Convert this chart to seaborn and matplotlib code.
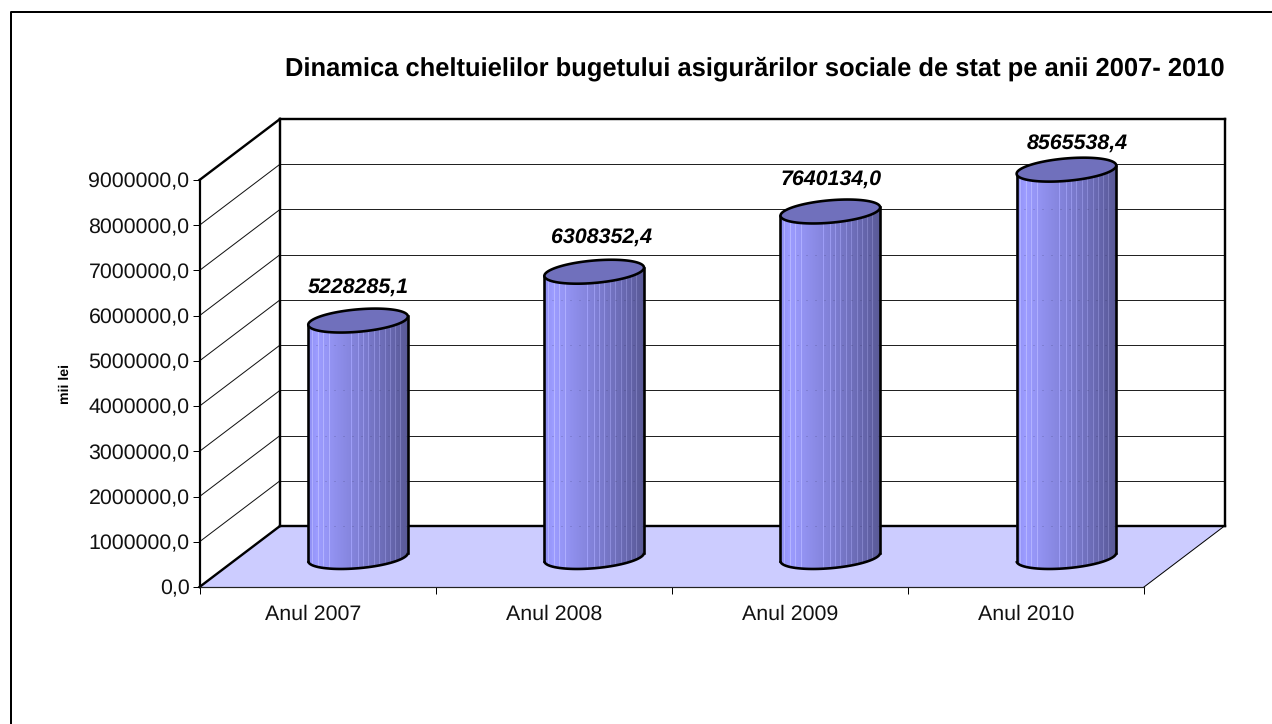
import numpy as np
import matplotlib
matplotlib.use("Agg")
import matplotlib.pyplot as plt
import seaborn as sns
from matplotlib.lines import Line2D
from matplotlib.patches import PathPatch, Polygon
from matplotlib.path import Path
from matplotlib.transforms import Affine2D, IdentityTransform

categories = ["Anul 2007", "Anul 2008", "Anul 2009", "Anul 2010"]
values = [5228285.1, 6308352.4, 7640134.0, 8565538.4]
value_labels = ["5228285,1", "6308352,4", "7640134,0", "8565538,4"]
y_ticks = [0, 1000000, 2000000, 3000000, 4000000, 5000000, 6000000, 7000000, 8000000, 9000000]
title = "Dinamica cheltuielilor bugetului asigurărilor sociale de stat pe anii 2007- 2010"
y_title = "mii lei"

W, H = 1272, 724
sns.set_theme(style="white")
plt.rcParams["font.family"] = ["Liberation Sans", "DejaVu Sans"]
plt.rcParams["text.hinting"] = "no_hinting"
plt.rcParams["text.hinting_factor"] = 8
px = 72 / 100  # points per pixel
FS = 15.4
EDGE = 2.6

fig = plt.figure(figsize=(W / 100, H / 100), dpi=100, facecolor="white")
ax = fig.add_axes([199.5 / W, 1 - 587 / H, 944.5 / W, 407 / H])
ax.patch.set_alpha(0)

sns.barplot(x=categories, y=values, width=0.425, color="#7C7CCC", ax=ax, saturation=1, zorder=5, errorbar=None)
bars = list(ax.patches)
ax.set_xlim(-0.5, 3.5)
ax.set_ylim(0, 9000000)

ax.set_yticks(y_ticks)
ax.set_yticklabels([f"{v},0" for v in y_ticks], fontsize=FS, color="#111111")
ax.set_xticks(np.arange(-0.5, 4.5), minor=False)
ax.set_xticklabels([])
ax.set_xticks(np.arange(len(categories)), labels=categories, minor=True, fontsize=FS, color="#111111")
ax.tick_params(axis="x", which="major", length=7 * px, width=1 * px, color="black", bottom=True)
ax.tick_params(axis="x", which="minor", length=0, pad=18 * px, bottom=True)
ax.tick_params(axis="y", length=7 * px, width=1 * px, color="black", left=True, pad=3 * px)
ax.set_ylabel(y_title, fontsize=10.2, fontweight="bold", color="black")
ax.yaxis.set_label_coords((72 - 199.5) / 944.5, (587 - 384) / 407)
ax.set_xlabel("")
sns.despine(ax=ax, top=True, right=True)
ax.spines["left"].set(linewidth=2.2 * px, color="black", zorder=4)
ax.spines["bottom"].set(linewidth=1.2 * px, color="#222222", zorder=4)

# The first category label sits slightly left of its slot in the source
first = ax.get_xminorticklabels()[0]
first.set_transform(first.get_transform() + Affine2D().translate(-4.5, 0))

# Depth offsets of the pseudo-3D box (pixels)
fig.canvas.draw()
DEPTH = (80.5, 61)
MID = (40.5, 30)
mid = ax.transData + Affine2D().translate(*MID)
ident = IdentityTransform()


def disp(x, v, offset=(0, 0)):
    p = ax.transData.transform((x, v))
    return p[0] + offset[0], p[1] + offset[1]


def seg(a, b, lw, color="black", z=2):
    ax.add_artist(Line2D([a[0], b[0]], [a[1], b[1]], transform=ident, lw=lw * px, color=color,
                         zorder=z, clip_on=False, solid_capstyle="projecting"))


# Floor
fl = [disp(-0.5, 0), disp(3.5, 0), disp(3.5, 0, DEPTH), disp(-0.5, 0, DEPTH)]
ax.add_artist(Polygon(fl, closed=True, transform=ident, facecolor="#CCCCFF", edgecolor="none",
                      zorder=1, clip_on=False))

# Walls grid
for v in y_ticks[1:-1]:
    seg(disp(-0.5, v), disp(-0.5, v, DEPTH), 1, color="#111111")
    seg(disp(-0.5, v, DEPTH), disp(3.5, v, DEPTH), 1, color="#222222")
top = y_ticks[-1]
seg(disp(-0.5, top), disp(-0.5, top, DEPTH), 2.4)
seg(disp(-0.5, 0), disp(-0.5, 0, DEPTH), 2.4)
seg(disp(-0.5, 0, DEPTH), disp(-0.5, top, DEPTH), 2.4)
seg(disp(-0.5, top, DEPTH), disp(3.5, top, DEPTH), 2.4)
seg(disp(3.5, top, DEPTH), disp(3.5, 0, DEPTH), 2.4)
seg(disp(-0.5, 0, DEPTH), disp(3.5, 0, DEPTH), 2.4)
seg(disp(3.5, 0), disp(3.5, 0, DEPTH), 1)

# Cylinders
TILT = np.deg2rad(5.0)
A = 50.0
B = 11.2
streaks = [0.05, 0.11, 0.16, 0.22, 0.44, 0.5, 0.55, 0.6, 0.66, 0.71, 0.77, 0.82, 0.87, 0.92]


def ell(c, t):
    x = A * np.cos(t) * np.cos(TILT) - B * np.sin(t) * np.sin(TILT)
    y = A * np.cos(t) * np.sin(TILT) + B * np.sin(t) * np.cos(TILT)
    return np.column_stack([c[0] + x, c[1] + y])


t_right = np.arctan2(-B * np.sin(TILT), A * np.cos(TILT))
t_left = t_right + np.pi

stops = np.array([[0.0, 140, 140, 238], [0.1, 156, 156, 255], [0.5, 128, 128, 214],
                  [0.85, 100, 100, 170], [1.0, 88, 88, 148]])
for patch in bars:
    x0, w, h = patch.get_x(), patch.get_width(), patch.get_height()
    xc = x0 + w / 2
    patch.set_transform(mid)
    patch.set_linewidth(0)
    ctop = disp(xc, h, MID)
    cbot = disp(xc, 0, MID)
    lower = ell(cbot, np.linspace(t_left, t_right + 2 * np.pi, 60))
    upper = ell(ctop, np.linspace(t_right, t_left, 60))
    verts = np.vstack([lower, upper, lower[:1]])
    codes = [Path.MOVETO] + [Path.LINETO] * (len(verts) - 2) + [Path.CLOSEPOLY]
    body = Path(verts, codes)
    patch.set_clip_box(None)
    patch.set_clip_path(body, ident)

    xl = ctop[0] - A - 1
    xr = ctop[0] + A + 1
    n = int(round(xr - xl))
    u = (np.arange(n) + 0.5) / n
    cols = np.column_stack([np.interp(u, stops[:, 0], stops[:, i]) for i in (1, 2, 3)])
    for s in streaks:
        k = int(s * n)
        cols[k] = np.minimum(cols[k] + 26, 255)
    cols = cols / 255
    X = np.linspace(xl, xr, n + 1)
    Y = np.array([cbot[1] - 30, ctop[1] + 30])
    mesh = ax.pcolormesh(X, Y, cols[None, :, :], transform=ident, zorder=6, antialiased=False, linewidth=0)
    mesh.set_clip_box(None)
    mesh.set_clip_path(body, ident)

    # faint grid showing through the cylinder
    for v in y_ticks[:-1]:
        yy = disp(0, v, DEPTH)[1]
        if yy < ctop[1]:
            ln = Line2D([xl, xr], [yy, yy], transform=ident, color="#222244", lw=1 * px, alpha=0.3,
                        dashes=(1, 8), zorder=6.5)
            ax.add_artist(ln)
            ln.set_clip_box(None)
            ln.set_clip_path(body, ident)

    ax.add_artist(PathPatch(Path(lower), fill=False, ec="black", lw=EDGE * px, transform=ident,
                            zorder=7, clip_on=False))
    seg(upper[-1], lower[0], EDGE, z=7)
    seg(upper[0], lower[-1], EDGE, z=7)
    full = ell(ctop, np.linspace(0, 2 * np.pi, 100))
    ax.add_artist(Polygon(full, closed=True, transform=ident, facecolor="#7070BC", edgecolor="black",
                          lw=EDGE * px, zorder=8, clip_on=False))

# Value labels: placed above the cylinder tops, hand-nudged as in the source
nudges = [(0, 33.5), (7, 34.5), (1, 32.5), (11, 26.5)]
for i, (val, lab) in enumerate(zip(values, value_labels)):
    x, y = disp(i, val, MID)
    ax.text(x + nudges[i][0], y + nudges[i][1], lab, transform=ident, ha="center", va="center",
            fontsize=FS, fontweight="bold", fontstyle="italic", color="black", zorder=9, clip_on=False)

ax.set_xlim(-0.5, 3.5)
ax.set_ylim(0, 9000000)

fig.suptitle(title, x=285 / W, y=1 - 69 / H, ha="left", va="center", fontsize=18.38, fontweight="bold", color="black")

# Outer chart border (top and left only are visible)
fig.add_artist(Line2D([11 / W, 11 / W, 1], [0, 1 - 12 / H, 1 - 12 / H], transform=fig.transFigure,
                      color="black", lw=2 * px))

fig.savefig("out.png", dpi=100, facecolor="white")
